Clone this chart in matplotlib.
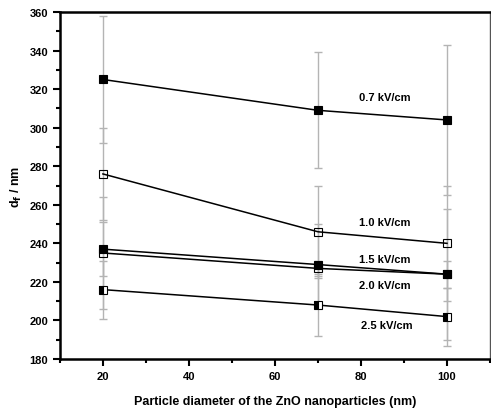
import numpy as np
import matplotlib
matplotlib.use("Agg")
import matplotlib.pyplot as plt
from matplotlib.ticker import MultipleLocator

plt.rcParams['font.family'] = ['Liberation Sans', 'DejaVu Sans']
plt.rcParams['font.weight'] = 'bold'

# particle diameter (nm)
diameter = [20, 70, 100]

# fibre diameter per field strength, with error bars
df_07 = [325, 309, 304]
err_07 = [33, 30, 39]
df_10 = [276, 246, 240]
err_10 = [24, 24, 30]
df_15 = [237, 229, 224]
err_15 = [14, 21, 34]
df_20 = [235, 227, 224]
err_20 = [29, 4, 7]
df_25 = [216, 208, 202]
err_25 = [15, 16, 15]

labels = ['0.7 kV/cm', '1.0 kV/cm', '1.5 kV/cm', '2.0 kV/cm', '2.5 kV/cm']
label_x = [85.5, 85.5, 85.5, 85.5, 86]
label_y = [316, 251, 232, 218.5, 197.5]

series = [
    (df_07, err_07, 'full'),
    (df_10, err_10, 'none'),
    (df_15, err_15, 'full'),
    (df_20, err_20, 'none'),
    (df_25, err_25, 'left'),
]

fig = plt.figure(figsize=(4.91, 4.14), dpi=100)
ax = fig.add_axes([0.122, 0.1304, 0.876, 0.8382])

for vals, errs, fill in series:
    ax.errorbar(diameter, vals, yerr=errs, fmt='none', ecolor='#b4b4b4',
                elinewidth=1, capsize=3, capthick=1, zorder=1)
    ax.plot(diameter, vals, color='black', lw=1.1, marker='s', ms=6,
            fillstyle=fill, markerfacecolor='black' if fill != 'none' else 'white',
            markerfacecoloralt='white', markeredgecolor='black', markeredgewidth=0.8,
            zorder=3)

for txt, lx, ly in zip(labels, label_x, label_y):
    ax.text(lx, ly, txt, fontsize=8, fontweight='bold', ha='center', va='center')

ax.set_xlim(10, 110)
ax.set_ylim(180, 360)
ax.xaxis.set_major_locator(MultipleLocator(20))
ax.xaxis.set_minor_locator(MultipleLocator(10))
ax.yaxis.set_major_locator(MultipleLocator(20))
ax.yaxis.set_minor_locator(MultipleLocator(10))
ax.set_xticks([20, 40, 60, 80, 100])
ax.tick_params(which='major', direction='out', length=5, width=1.5, labelsize=8)
ax.tick_params(which='minor', direction='out', length=3, width=1.5)
for lbl in ax.get_xticklabels() + ax.get_yticklabels():
    lbl.set_fontweight('bold')

for side in ['left', 'bottom', 'top']:
    ax.spines[side].set_linewidth(1.8)
ax.spines['right'].set_linewidth(1.0)
ax.spines['right'].set_color('#555555')

ax.set_xlabel('Particle diameter of the ZnO nanoparticles (nm)', fontsize=9,
              fontweight='bold', labelpad=10)
ax.set_ylabel(r'd$_\mathbf{f}$ / nm', fontsize=9, fontweight='bold', labelpad=4)

fig.savefig('out.png', dpi=100)
